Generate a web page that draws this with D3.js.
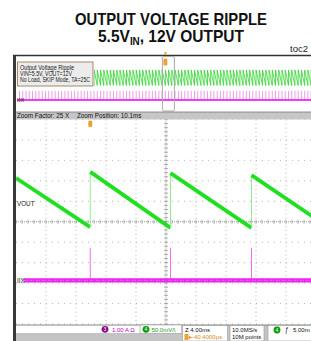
<!DOCTYPE html>
<html><head><meta charset="utf-8">
<script src="https://cdn.jsdelivr.net/npm/d3@7"></script>
<style>body{margin:0;background:#fff}svg{display:block}</style>
</head><body>
<script>
// ---------- data ----------
const titleLine1 = "OUTPUT VOLTAGE RIPPLE";
const titleLine2 = ["5.5V", "IN", ", 12V OUTPUT"];
const figureTag = "toc2";
const noteLines = ["Output Voltage Ripple", "VIN=5.5V, VOUT=12V", "No Load, SKIP Mode, TA=25C"];
const zoomInfo = ["Zoom Factor: 25 X", "Zoom Position: 10.1ms"];
const chLabels = ["VOUT", "IIX"];
// zoomed window: time (ms, relative to zoom centre), 4 ms/div, 50 mV/div
const voutTimeMs = [-20, -10.1, -10.1, 0.6, 0.6, 11.4, 11.4, 20];
const voutMv     = [107, -13, 122, -15, 119, -15, 114, 7];
// inductor current, 1 A/div
const iSpikeTimeMs = [-10.1, 0.6, 11.4];
const iSpikeA = [1.6, 1.6, 1.6];
const iBaselineA = 0;
const overviewPeriodMs = 10.8;   // switching period read from zoom window
const triggerTimeMs = -10.1;
const status = {
  ch3: ["3", "1.00 A \u03A9"],
  ch4: ["4", "50.0mV/\\"],
  horiz: ["Z 4.00ms", "\u25B8-40.4000\u00B5s"],
  acq: ["10.0MS/s", "10M points"],
  trig: ["4", "\u0192", "5.00m"]
};

// ---------- layout ----------
const W = 311, H = 341;
const L = 16, R = 316;            // screen 10 div horizontally
const mainTop = 119.5, mainBot = 324;
const ovTop = 55.5, ovBot = 112;
const svg = d3.select("body").append("svg").attr("width", W).attr("height", H)
  .style("font-family", "'Liberation Sans', Arial, sans-serif");

// title
svg.append("text").attr("x", 171).attr("y", 24.5).attr("text-anchor", "middle")
  .attr("font-family", "'Liberation Sans Narrow','Arial Narrow','Liberation Sans',sans-serif")
  .attr("font-weight", "bold").attr("font-size", 16.5).attr("fill", "#111")
  .attr("textLength", 192).attr("lengthAdjust", "spacingAndGlyphs").text(titleLine1);
const g2 = svg.append("g");
const t2 = g2.append("text").attr("x", 0).attr("y", 0)
  .attr("font-family", "'Liberation Sans Narrow','Arial Narrow','Liberation Sans',sans-serif")
  .attr("font-weight", "bold").attr("font-size", 16.5).attr("fill", "#111");
t2.append("tspan").text(titleLine2[0]);
t2.append("tspan").attr("font-size", 10.5).attr("dy", 3).text(titleLine2[1]);
t2.append("tspan").attr("dy", -3).text(titleLine2[2]);
const w2 = t2.node().getBBox().width;
g2.attr("transform", `translate(98,42) scale(${146 / w2},1)`);
svg.append("text").attr("x", 308).attr("y", 52).attr("text-anchor", "end")
  .attr("font-size", 9.5).attr("fill", "#222").text(figureTag);

// scope frame
svg.append("rect").attr("x", L).attr("y", ovTop).attr("width", W - L).attr("height", H - ovTop).attr("fill", "#fff");
svg.append("rect").attr("x", 13).attr("y", 55).attr("width", 3).attr("height", H - 55).attr("fill", "#3a3a3a");
svg.append("line").attr("x1", 13).attr("x2", W).attr("y1", ovTop).attr("y2", ovTop).attr("stroke", "#333").attr("stroke-width", 1.5);

// ---------- scales ----------
const xM = d3.scaleLinear().domain([-20, 20]).range([L, R]);
const yV = d3.scaleLinear().domain([-250, 250]).range([mainBot, mainTop]);
const yI = d3.scaleLinear().domain([-2.13, 7.87]).range([mainBot, mainTop]);
const xO = d3.scaleLinear().domain([-508, 492]).range([L, R]);
const yOV = d3.scaleLinear().domain([-250, 250]).range([ovBot, ovTop]);
const yOI = d3.scaleLinear().domain([-2.13, 7.87]).range([ovBot, ovTop]);

const defs = svg.append("defs");
defs.append("clipPath").attr("id", "cm").append("rect")
  .attr("x", L).attr("y", mainTop).attr("width", W - L).attr("height", mainBot - mainTop + 1);
defs.append("clipPath").attr("id", "co").append("rect")
  .attr("x", L + 1).attr("y", ovTop + 1).attr("width", W - L).attr("height", ovBot - ovTop - 1);
defs.append("clipPath").attr("id", "cog").append("rect")
  .attr("x", 94).attr("y", ovTop + 1).attr("width", W - 94).attr("height", ovBot - ovTop - 1);

// ---------- overview ----------
const peakMv = d3.max(voutMv), troughMv = d3.min(voutMv);
const t0 = voutTimeMs[3];
const kMin = Math.ceil((xO.domain()[0] - t0) / overviewPeriodMs);
const kMax = Math.floor((xO.domain()[1] - t0) / overviewPeriodMs);
const jumps = d3.range(kMin, kMax + 1).map(k => t0 + k * overviewPeriodMs);
const ovPts = [];
jumps.forEach(t => { ovPts.push([t, troughMv]); ovPts.push([t, peakMv]); });
const gO = svg.append("g").attr("clip-path", "url(#co)");
gO.selectAll("line.sp").data(jumps).join("line").attr("class", "sp")
  .attr("x1", d => xO(d)).attr("x2", d => xO(d))
  .attr("y1", yOI(iBaselineA)).attr("y2", yOI(d3.max(iSpikeA)))
  .attr("stroke", "#f090f0").attr("stroke-width", 0.9);
gO.append("line").attr("x1", xO(-508)).attr("x2", xO(492))
  .attr("y1", yOI(iBaselineA)).attr("y2", yOI(iBaselineA))
  .attr("stroke", "#ee00ee").attr("stroke-width", 1.6);
svg.append("g").attr("clip-path", "url(#cog)").append("path")
  .attr("d", d3.line().x(d => xO(d[0])).y(d => yOV(d[1]))(ovPts))
  .attr("fill", "none").attr("stroke", "#2fd62f").attr("stroke-width", 0.8);
// zoom window marker
svg.append("rect").attr("x", xO(-20)).attr("y", ovTop + 1).attr("width", xO(20) - xO(-20)).attr("height", ovBot - ovTop - 2)
  .attr("rx", 1.5).attr("fill", "none").attr("stroke", "#aaa").attr("stroke-width", 1);
svg.append("rect").attr("x", xO(triggerTimeMs) - 2).attr("y", 58.5).attr("width", 4).attr("height", 7)
  .attr("rx", 1.5).attr("fill", "#f0a030");
svg.append("rect").attr("x", xO(triggerTimeMs) - 1).attr("y", 52).attr("width", 2).attr("height", 3)
  .attr("fill", "#f0a030");
// note box
svg.append("rect").attr("x", 17.5).attr("y", 62).attr("width", 75.5).attr("height", 24)
  .attr("fill", "#ececec").attr("stroke", "#a88866").attr("stroke-width", 1);
svg.append("g").selectAll("text").data(noteLines).join("text")
  .attr("x", 20).attr("y", (d, i) => 69.5 + i * 6.2).attr("font-size", 6.6).attr("fill", "#222")
  .attr("textLength", (d, i) => [54, 52, 70][i]).attr("lengthAdjust", "spacingAndGlyphs").text(d => d);
svg.append("text").attr("x", 17).attr("y", 102).attr("font-size", 6).attr("fill", "#222").text(chLabels[1]);

// zoom info band
svg.append("rect").attr("x", L).attr("y", ovBot).attr("width", W - L).attr("height", mainTop - ovBot).attr("fill", "#c6c6c6");
svg.append("line").attr("x1", L).attr("x2", W).attr("y1", ovBot).attr("y2", ovBot).attr("stroke", "#777").attr("stroke-width", 0.8);
svg.append("text").attr("x", 17).attr("y", 118.3).attr("font-size", 6.3).attr("fill", "#111").text(zoomInfo[0]);
svg.append("text").attr("x", 77).attr("y", 118.3).attr("font-size", 6.3).attr("fill", "#111").text(zoomInfo[1]);

// ---------- main grid ----------
const gG = svg.append("g").attr("clip-path", "url(#cm)");
const divW = (R - L) / 10, divH = (mainBot - mainTop) / 10;
d3.range(1, 10).forEach(k => {
  const x = L + k * divW;
  if (k === 5) return;
  gG.append("line").attr("x1", x).attr("x2", x).attr("y1", mainTop).attr("y2", mainBot)
    .attr("stroke", "#b4b4b4").attr("stroke-width", 1).attr("stroke-dasharray", `1,${divH / 5 - 1}`);
});
d3.range(0, 11).forEach(k => {
  const y = mainTop + k * divH;
  if (k === 5) return;
  gG.append("line").attr("x1", L).attr("x2", R).attr("y1", y).attr("y2", y)
    .attr("stroke", "#b4b4b4").attr("stroke-width", 1).attr("stroke-dasharray", `1,${divW / 5 - 1}`);
});
const cx = L + 5 * divW, cy = mainTop + 5 * divH;
gG.append("line").attr("x1", cx).attr("x2", cx).attr("y1", mainTop).attr("y2", mainBot)
  .attr("stroke", "#999").attr("stroke-dasharray", "1,1");
gG.append("line").attr("x1", L).attr("x2", R).attr("y1", cy).attr("y2", cy)
  .attr("stroke", "#999").attr("stroke-dasharray", "1,1");
d3.range(0, 51).forEach(k => {
  const y = mainTop + k * divH / 5;
  gG.append("line").attr("x1", cx - 2).attr("x2", cx + 2).attr("y1", y).attr("y2", y).attr("stroke", "#999").attr("stroke-width", 0.8);
  const x = L + k * divW / 5;
  gG.append("line").attr("x1", x).attr("x2", x).attr("y1", cy - 2).attr("y2", cy + 2).attr("stroke", "#999").attr("stroke-width", 0.8);
});

// ---------- main traces ----------
const gT = svg.append("g").attr("clip-path", "url(#cm)");
// current
gT.selectAll("line.isp").data(iSpikeTimeMs).join("line").attr("class", "isp")
  .attr("x1", d => xM(d)).attr("x2", d => xM(d))
  .attr("y1", yI(iBaselineA)).attr("y2", (d, i) => yI(iSpikeA[i]))
  .attr("stroke", "#f070f0").attr("stroke-width", 1);
gT.append("line").attr("x1", xM(-18.95)).attr("x2", xM(20))
  .attr("y1", yI(iBaselineA)).attr("y2", yI(iBaselineA))
  .attr("stroke", "#ee22ee").attr("stroke-width", 4.2);
gT.append("line").attr("x1", xM(-18.95)).attr("x2", xM(20))
  .attr("y1", yI(iBaselineA)).attr("y2", yI(iBaselineA))
  .attr("stroke", "#f060f0").attr("stroke-width", 1.2).attr("stroke-dasharray", "2,1,1,2");
// vout
const segs = d3.range(voutTimeMs.length - 1).map(i => ({
  a: [voutTimeMs[i], voutMv[i]], b: [voutTimeMs[i + 1], voutMv[i + 1]],
  jump: voutTimeMs[i] === voutTimeMs[i + 1]
}));
gT.selectAll("line.v").data(segs).join("line").attr("class", "v")
  .attr("x1", d => xM(d.a[0])).attr("x2", d => xM(d.b[0]))
  .attr("y1", d => yV(d.a[1])).attr("y2", d => yV(d.b[1]))
  .attr("stroke", d => d.jump ? "#8cee8c" : "#1fe01f")
  .attr("stroke-width", d => d.jump ? 1 : 3.8);

// labels
svg.append("text").attr("x", 17).attr("y", 206).attr("font-size", 6.3).attr("fill", "#222").text(chLabels[0]);
svg.append("text").attr("x", 17).attr("y", yI(iBaselineA) + 2.2).attr("font-size", 6.3).attr("fill", "#222").text(chLabels[1]);
// trigger marker
svg.append("rect").attr("x", xM(triggerTimeMs) - 2).attr("y", 120.5).attr("width", 4).attr("height", 6.5)
  .attr("rx", 1.5).attr("fill", "#f0a030");

// ---------- status bar ----------
const sb = svg.append("g");
sb.append("rect").attr("x", L).attr("y", 325).attr("width", W - L).attr("height", 16).attr("fill", "#c4c4c4");
sb.append("rect").attr("x", L).attr("y", 325).attr("width", 166).attr("height", 8).attr("fill", "#fff");
sb.append("line").attr("x1", L).attr("x2", W).attr("y1", 325).attr("y2", 325).attr("stroke", "#666").attr("stroke-width", 0.8);
sb.append("rect").attr("x", 140).attr("y", 325).attr("width", 41.5).attr("height", 8.5).attr("fill", "#fff").attr("stroke", "#999").attr("stroke-width", 0.6);
sb.append("circle").attr("cx", 105).attr("cy", 329.3).attr("r", 3.4).attr("fill", "#8a0a8a");
sb.append("text").attr("x", 105).attr("y", 331.3).attr("text-anchor", "middle").attr("font-size", 5).attr("fill", "#fff").text(status.ch3[0]);
sb.append("text").attr("x", 112).attr("y", 331.5).attr("font-size", 6).attr("fill", "#c000c0").text(status.ch3[1]);
sb.append("circle").attr("cx", 146).attr("cy", 329.3).attr("r", 3.4).attr("fill", "#0a9a0a");
sb.append("text").attr("x", 146).attr("y", 331.3).attr("text-anchor", "middle").attr("font-size", 5).attr("fill", "#fff").text(status.ch4[0]);
sb.append("text").attr("x", 151.5).attr("y", 331.5).attr("font-size", 6).attr("fill", "#109a10").text(status.ch4[1]);
[[182.5, 45], [230, 34], [268, 44]].forEach(([x, w]) =>
  sb.append("rect").attr("x", x).attr("y", 325.5).attr("width", w).attr("height", 15.5).attr("fill", "#fff").attr("stroke", "#999").attr("stroke-width", 0.6));
sb.append("text").attr("x", 185).attr("y", 331.5).attr("font-size", 6).attr("fill", "#111").text(status.horiz[0]);
sb.append("rect").attr("x", 184.5).attr("y", 334).attr("width", 4).attr("height", 6).attr("fill", "#f0a030");
sb.append("text").attr("x", 189).attr("y", 339.3).attr("font-size", 6).attr("fill", "#e08a10").text(status.horiz[1]);
sb.append("text").attr("x", 232).attr("y", 331.5).attr("font-size", 6).attr("fill", "#111").text(status.acq[0]);
sb.append("text").attr("x", 232).attr("y", 339.3).attr("font-size", 6).attr("fill", "#111").text(status.acq[1]);
sb.append("circle").attr("cx", 277).attr("cy", 330).attr("r", 3.4).attr("fill", "#0a9a0a");
sb.append("text").attr("x", 277).attr("y", 332).attr("text-anchor", "middle").attr("font-size", 5).attr("fill", "#fff").text(status.trig[0]);
sb.append("text").attr("x", 285).attr("y", 332).attr("font-size", 6.5).attr("fill", "#111").text(status.trig[1]);
sb.append("text").attr("x", 293).attr("y", 332).attr("font-size", 6).attr("fill", "#111").text(status.trig[2]);
</script>
</body></html>
